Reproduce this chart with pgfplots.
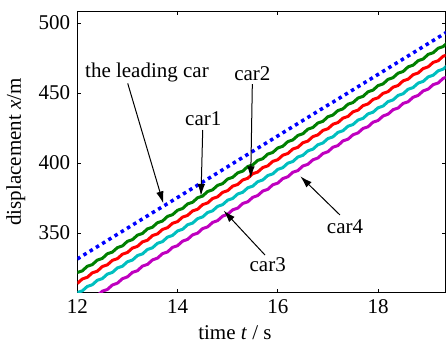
\documentclass[border=0pt]{standalone}
\usepackage{fontspec}
\setmainfont{Liberation Serif}
\usepackage{pgfplots}
\usepackage{pgfplotstable}
\pgfplotsset{compat=1.18}
\usetikzlibrary{arrows.meta}
\definecolor{mblue}{RGB}{0,0,255}
\definecolor{mgreen}{RGB}{0,128,0}
\definecolor{mred}{RGB}{255,0,0}
\definecolor{mcyan}{RGB}{0,191,191}
\definecolor{mmag}{RGB}{191,0,191}
\pgfplotstableread{
t lead c1 c2 c3 c4
12.0 331.5 321.8 314.0 307.5 296.3
12.1 333.7 323.0 317.2 308.7 299.5
12.2 335.9 326.3 318.4 311.9 300.8
12.3 338.1 327.5 321.6 313.1 304.0
12.4 340.3 330.7 322.8 316.3 305.2
12.5 342.5 331.9 326.1 317.5 308.5
12.6 344.7 335.2 327.3 320.7 309.7
12.7 346.9 336.4 330.5 321.9 312.9
12.8 349.1 339.6 331.7 325.1 314.2
12.9 351.3 340.8 334.9 326.3 317.4
13.0 353.5 344.1 336.1 329.5 318.7
13.1 355.7 345.3 339.3 330.7 321.9
13.2 357.9 348.5 340.5 333.9 323.1
13.3 360.1 349.7 343.7 335.1 326.4
13.4 362.3 353.0 344.9 338.3 327.6
13.5 364.5 354.2 348.2 339.5 330.8
13.6 366.7 357.4 349.4 342.7 332.1
13.7 368.8 358.6 352.6 343.9 335.3
13.8 371.0 361.9 353.8 347.1 336.5
13.9 373.2 363.1 357.0 348.3 339.8
14.0 375.4 366.3 358.2 351.5 341.0
14.1 377.6 367.5 361.4 352.7 344.2
14.2 379.8 370.8 362.6 355.9 345.5
14.3 382.0 372.0 365.8 357.1 348.7
14.4 384.2 375.2 367.0 360.3 349.9
14.5 386.4 376.4 370.3 361.5 353.2
14.6 388.6 379.7 371.5 364.7 354.4
14.7 390.8 380.9 374.7 365.9 357.6
14.8 393.0 384.1 375.9 369.1 358.9
14.9 395.2 385.3 379.1 370.3 362.1
15.0 397.4 388.6 380.3 373.5 363.4
15.1 399.6 389.8 383.5 374.7 366.6
15.2 401.8 393.0 384.7 377.9 367.8
15.3 404.0 394.2 387.9 379.1 371.1
15.4 406.2 397.5 389.1 382.3 372.3
15.5 408.4 398.7 392.4 383.5 375.5
15.6 410.6 401.9 393.6 386.7 376.8
15.7 412.8 403.1 396.8 387.9 380.0
15.8 415.0 406.4 398.0 391.1 381.2
15.9 417.2 407.6 401.2 392.3 384.5
16.0 419.4 410.8 402.4 395.5 385.7
16.1 421.6 412.0 405.6 396.7 388.9
16.2 423.8 415.3 406.8 399.9 390.2
16.3 426.0 416.5 410.0 401.1 393.4
16.4 428.2 419.7 411.2 404.3 394.6
16.5 430.4 420.9 414.5 405.5 397.9
16.6 432.6 424.2 415.7 408.7 399.1
16.7 434.8 425.4 418.9 409.9 402.3
16.8 437.0 428.6 420.1 413.1 403.6
16.9 439.2 429.8 423.3 414.3 406.8
17.0 441.4 433.1 424.5 417.5 408.1
17.1 443.5 434.3 427.7 418.7 411.3
17.2 445.7 437.5 428.9 421.9 412.5
17.3 447.9 438.7 432.1 423.1 415.8
17.4 450.1 442.0 433.3 426.3 417.0
17.5 452.3 443.2 436.6 427.5 420.2
17.6 454.5 446.4 437.8 430.7 421.5
17.7 456.7 447.6 441.0 431.9 424.7
17.8 458.9 450.9 442.2 435.1 425.9
17.9 461.1 452.1 445.4 436.3 429.2
18.0 463.3 455.3 446.6 439.5 430.4
18.1 465.5 456.5 449.8 440.7 433.6
18.2 467.7 459.8 451.0 443.9 434.9
18.3 469.9 461.0 454.2 445.1 438.1
18.4 472.1 464.2 455.4 448.3 439.3
18.5 474.3 465.4 458.7 449.5 442.6
18.6 476.5 468.7 459.9 452.7 443.8
18.7 478.7 469.9 463.1 453.9 447.0
18.8 480.9 473.1 464.3 457.1 448.3
18.9 483.1 474.3 467.5 458.3 451.5
19.0 485.3 477.6 468.7 461.5 452.8
19.1 487.5 478.8 471.9 462.7 456.0
19.2 489.7 482.0 473.1 465.9 457.2
19.3 491.9 483.2 476.3 467.1 460.5
19.4 494.1 486.5 477.5 470.3 461.7
}\cartable
\begin{document}
\fontsize{21}{25}\selectfont
\begin{tikzpicture}
\useasboundingbox (-77.3pt,-50.3pt) rectangle (369.7pt,292.7pt);
\begin{axis}[
  at={(0,0)}, anchor=south west,
  scale only axis, width=368.4pt, height=281.7pt,
  xmin=12, xmax=19.35, ymin=307.4, ymax=508.6,
  xtick={12,14,16,18}, ytick={350,400,450,500},
  tick align=inside, major tick length=4pt,
  axis line style={line width=0.8pt},
  every tick/.style={black, line width=0.8pt},
  /pgf/number format/assume math mode=true,
  tick label style={font=\fontsize{21}{25}\selectfont},
  label style={font=\fontsize{21}{25}\selectfont},
  xlabel={time \textit{t} / s},
  ylabel={displacement \textit{x}/m},
  xlabel style={at={(axis description cs:0.428,0)}, anchor=north, yshift=-26pt},
  ylabel style={yshift=-1pt},
  clip=true,
]
\addplot[mmag, line width=3pt, line join=round] table[x=t, y=c4] {\cartable};
\addplot[mcyan, line width=3pt, line join=round] table[x=t, y=c3] {\cartable};
\addplot[mred, line width=3pt, line join=round] table[x=t, y=c2] {\cartable};
\addplot[mgreen, line width=3pt, line join=round] table[x=t, y=c1] {\cartable};
\addplot[mblue, line width=3.5pt, dash pattern=on 3.5pt off 3.8pt] table[x=t, y=lead] {\cartable};

\tikzset{annarrow/.style={line width=1pt, -{Latex[length=12pt,width=7.5pt]}}}
\node[font=\fontsize{21}{25}\selectfont] at (axis cs:13.39,465) {the leading car};
\draw[annarrow] (axis cs:13.006,456.9) -- (axis cs:13.716,371.2);
\node[font=\fontsize{21}{25}\selectfont] at (axis cs:14.514,431.9) {car1};
\draw[annarrow] (axis cs:14.502,423.6) -- (axis cs:14.468,376.5);
\node[font=\fontsize{21}{25}\selectfont] at (axis cs:15.492,464.1) {car2};
\draw[annarrow] (axis cs:15.492,456.4) -- (axis cs:15.46,389.1);
\node[font=\fontsize{21}{25}\selectfont] at (axis cs:15.799,327.6) {car3};
\draw[annarrow] (axis cs:15.745,334.3) -- (axis cs:14.92,366.0);
\node[font=\fontsize{21}{25}\selectfont] at (axis cs:17.341,354.5) {car4};
\draw[annarrow] (axis cs:17.241,362.9) -- (axis cs:16.45,390.5);
\end{axis}
\end{tikzpicture}
\end{document}
